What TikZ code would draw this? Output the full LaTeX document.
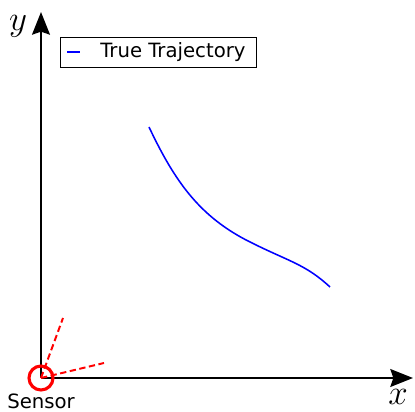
\documentclass[tikz,border=0pt]{standalone}
\usepackage{fontspec}
\setsansfont{DejaVu Sans}
\usetikzlibrary{positioning}
\usetikzlibrary{arrows.meta}

\begin{document}
\begin{tikzpicture}[
        x=0.025cm, y=0.025cm,
        every node/.style={font=\sffamily\fontsize{14}{16}\selectfont},
        axis/.style={line width=2.1pt, -{Stealth[length=16pt, width=12.5pt, inset=2pt]}},
        ray/.style={red, line width=1.4pt, dash pattern=on 4.5pt off 2.5pt},
        traj/.style={blue, line width=1.1pt}
    ]

        % Marco
        \useasboundingbox (0,0) rectangle (415,412);

        % Ejes
        \coordinate (O) at (41,34);
        \coordinate (xend) at (413,34);
        \coordinate (yend) at (41,400);
        \draw[axis] (O) -- (xend);
        \draw[axis] (O) -- (yend);
        \node[font=\fontsize{25}{28}\selectfont] (xlab) at (398,15) {$x$};
        \node[font=\fontsize{25}{28}\selectfont] (ylab) at (18,386) {$y$};

        % Sensor
        \node[circle, draw=red, line width=2.2pt, inner sep=0pt, minimum size=0.6cm] (sensor) at (O) {};
        \node[below=-2pt of sensor] (sensorlab) {Sensor};
        \coordinate (ray1) at (63,94);
        \coordinate (ray2) at (104,49);
        \draw[ray] (O) -- (ray1);
        \draw[ray] (O) -- (ray2);

        % Trayectoria
        \draw[traj] (149,285) .. controls (175,230) and (200,195) .. (250,170)
            .. controls (290,150) and (305,148) .. (330,125);

        % Leyenda
        \node[draw, line width=0.6pt, inner sep=0pt,
              minimum width=4.9cm, minimum height=0.75cm] (legend) at (158,360) {};
        \coordinate (lstart) at (67,360);
        \coordinate (lend) at (80,360);
        \draw[traj] (lstart) -- (lend);
        \node[anchor=west, inner sep=0pt] (legendlab) at (100,360) {True Trajectory};

    \end{tikzpicture}
\end{document}
